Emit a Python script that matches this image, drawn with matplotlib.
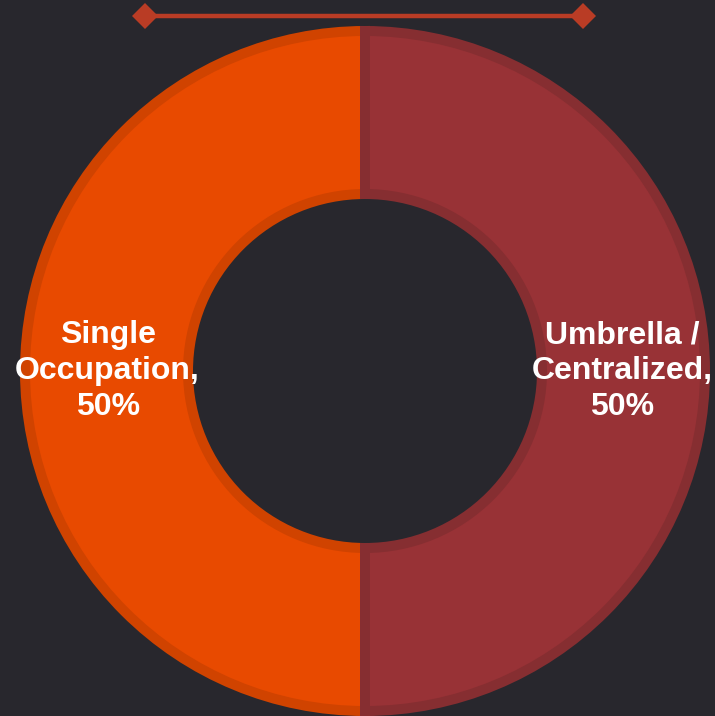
import matplotlib
matplotlib.use("Agg")
import matplotlib.pyplot as plt
from matplotlib.lines import Line2D

categories = ["Single\nOccupation,\n50%", "Umbrella /\nCentralized,\n50%"]
values = [50, 50]
fill_colors = ["#E84A00", "#983236"]
edge_colors = ["#D04300", "#862E31"]
bg = "#28272D"
accent = "#B93C25"

W, H = 715, 716
fig = plt.figure(figsize=(W / 100, H / 100), dpi=100, facecolor=bg)
ax = fig.add_axes([0, 0, 1, 1])
ax.set_facecolor(bg)

cx, cy = 365, 371
R = 340
wedges, texts = ax.pie(
    values,
    labels=categories,
    colors=fill_colors,
    startangle=90,
    counterclock=True,
    center=(cx, cy),
    radius=R,
    labeldistance=0.757,
    wedgeprops=dict(width=163, linewidth=7.2),
    textprops=dict(color="white", fontsize=23, fontweight="bold",
                   family=["Liberation Sans", "DejaVu Sans"], linespacing=1.25),
)
for w, ec in zip(wedges, edge_colors):
    w.set_edgecolor(ec)
for t in texts:
    t.set_horizontalalignment("center")
    t.set_verticalalignment("center")

ax.set_xlim(0, W)
ax.set_ylim(H, 0)
ax.set_aspect("equal")
ax.axis("off")

# decorative line with diamonds
ax.add_line(Line2D([145, 583], [16, 16], color=accent, linewidth=3.2))
ax.plot([145, 583], [16, 16], linestyle="none", marker="D", markersize=13,
        color=accent, markeredgewidth=0)

fig.savefig("out.png", dpi=100, facecolor=bg)
